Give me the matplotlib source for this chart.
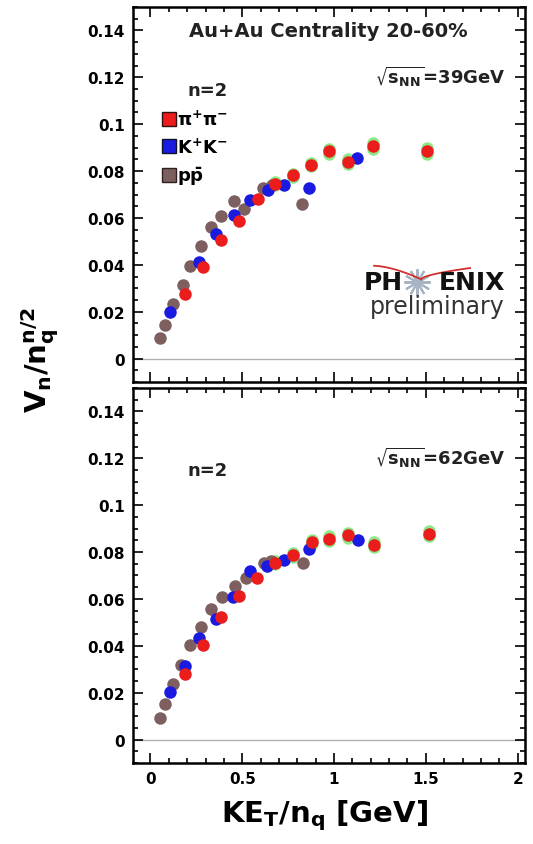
import numpy as np
import matplotlib
matplotlib.use("Agg")
from matplotlib import pyplot as plt
from matplotlib.lines import Line2D
from matplotlib.ticker import MultipleLocator

# v_n/n_q^(n/2) vs KE_T/n_q, Au+Au 20-60%, n=2
# 39 GeV
pi_x39 = [0.186, 0.286, 0.382, 0.480, 0.585, 0.676, 0.775, 0.875, 0.974, 1.078, 1.211, 1.505]
pi_y39 = [0.0275, 0.0390, 0.0508, 0.0585, 0.0679, 0.0746, 0.0782, 0.0828, 0.0885, 0.0840, 0.0907, 0.0886]
pi_sys39 = [0, 0, 0, 0, 0, 0.0006, 0.0007, 0.0008, 0.0010, 0.0010, 0.0011, 0.0011]
k_x39 = [0.109, 0.264, 0.359, 0.453, 0.540, 0.639, 0.730, 0.862, 1.124]
k_y39 = [0.0197, 0.0414, 0.0532, 0.0614, 0.0675, 0.0718, 0.0742, 0.0728, 0.0854]
p_x39 = [0.051, 0.081, 0.123, 0.177, 0.217, 0.277, 0.331, 0.386, 0.453, 0.512, 0.612, 0.660, 0.826]
p_y39 = [0.0090, 0.0143, 0.0233, 0.0315, 0.0394, 0.0482, 0.0561, 0.0607, 0.0671, 0.0639, 0.0728, 0.0740, 0.0661]

# 62 GeV
pi_x62 = [0.186, 0.286, 0.386, 0.482, 0.580, 0.676, 0.779, 0.880, 0.971, 1.078, 1.215, 1.515]
pi_y62 = [0.0279, 0.0405, 0.0521, 0.0614, 0.0691, 0.0754, 0.0787, 0.0843, 0.0857, 0.0871, 0.0832, 0.0878]
pi_sys62 = [0, 0, 0, 0, 0, 0.0006, 0.0007, 0.0008, 0.0010, 0.0010, 0.0011, 0.0011]
k_x62 = [0.109, 0.186, 0.264, 0.355, 0.449, 0.540, 0.636, 0.730, 0.862, 1.133]
k_y62 = [0.0203, 0.0315, 0.0434, 0.0514, 0.0606, 0.0720, 0.0741, 0.0765, 0.0811, 0.0853]
p_x62 = [0.051, 0.081, 0.123, 0.168, 0.217, 0.277, 0.331, 0.391, 0.458, 0.518, 0.616, 0.657, 0.829]
p_y62 = [0.0091, 0.0150, 0.0238, 0.0319, 0.0405, 0.0478, 0.0559, 0.0608, 0.0657, 0.0689, 0.0755, 0.0762, 0.0755]

energies = ["39GeV", "62GeV"]

red = "#ea1c1c"
blue = "#1a1ae0"
brown = "#7d5f5f"
green = "#8ee888"

plt.rcParams["font.family"] = "DejaVu Sans"
plt.rcParams["font.weight"] = "bold"
plt.rcParams["mathtext.default"] = "bf"

fig = plt.figure(figsize=(5.33, 8.45), dpi=100)
ax1 = fig.add_axes([0.2495, 0.5467, 0.7355, 0.4438])
ax2 = fig.add_axes([0.2495, 0.0959, 0.7355, 0.4438])

panels = [
    (ax1, pi_x39, pi_y39, pi_sys39, k_x39, k_y39, p_x39, p_y39),
    (ax2, pi_x62, pi_y62, pi_sys62, k_x62, k_y62, p_x62, p_y62),
]

ms = 9
for i, (ax, pix, piy, pis, kx, ky, px, py) in enumerate(panels):
    ax.axhline(0, color="#b0b0b0", lw=1, zorder=1)
    pix = np.array(pix)
    piy = np.array(piy)
    pis = np.array(pis)
    sel = pis > 0
    ax.plot(pix[sel], piy[sel] + pis[sel], "o", color=green, ms=ms, mew=0, zorder=2)
    ax.plot(pix[sel], piy[sel] - pis[sel], "o", color=green, ms=ms, mew=0, zorder=2)
    ax.plot(px, py, "o", color=brown, ms=ms, mew=0, zorder=3)
    ax.plot(kx, ky, "o", color=blue, ms=ms, mew=0, zorder=4)
    ax.plot(pix, piy, "o", color=red, ms=ms, mew=0, zorder=5)

    ax.set_xlim(-0.095, 2.04)
    ax.set_ylim(-0.01, 0.15)
    ax.xaxis.set_major_locator(MultipleLocator(0.5))
    ax.xaxis.set_minor_locator(MultipleLocator(0.1))
    ax.yaxis.set_major_locator(MultipleLocator(0.02))
    ax.yaxis.set_minor_locator(MultipleLocator(0.005))
    ax.tick_params(which="both", direction="in", top=True, right=True, width=1.2)
    ax.tick_params(which="major", length=7, labelsize=11, pad=6)
    ax.tick_params(which="minor", length=3.5)
    ax.set_yticks([0, 0.02, 0.04, 0.06, 0.08, 0.1, 0.12, 0.14])
    ax.set_yticklabels(["0", "0.02", "0.04", "0.06", "0.08", "0.1", "0.12", "0.14"])
    for s in ax.spines.values():
        s.set_linewidth(1.8)

    ax.text(0.138, 0.78, "n=2", transform=ax.transAxes, fontsize=13,
            ha="left", va="center", color="#222222")
    ax.text(0.949, 0.815, r"$\sqrt{s_{NN}}$=" + energies[i], transform=ax.transAxes,
            fontsize=13, ha="right", va="center", color="#222222")

ax1.tick_params(labelbottom=False)
ax2.set_xticks([0, 0.5, 1, 1.5, 2])
ax2.set_xticklabels(["0", "0.5", "1", "1.5", "2"])

ax1.text(0.497, 0.937, "Au+Au Centrality 20-60%", transform=ax1.transAxes,
         fontsize=14, ha="center", va="center", color="#222222")

handles = [
    Line2D([], [], marker="s", ls="", color=red, mec="#301010", ms=10),
    Line2D([], [], marker="s", ls="", color=blue, mec="#101030", ms=10),
    Line2D([], [], marker="s", ls="", color=brown, mec="#302020", ms=10),
]
labels = [r"$\pi^{+}\pi^{-}$", r"K$^{+}$K$^{-}$", r"p$\bar{p}$"]
leg = ax1.legend(handles, labels, loc="upper left", bbox_to_anchor=(0.055, 0.75),
                 frameon=False, fontsize=13, handlelength=0.6, handletextpad=0.15,
                 labelspacing=0.45, borderpad=0)

# PHENIX preliminary logo
ax1.text(0.588, 0.267, "PH", transform=ax1.transAxes, fontsize=18, ha="left",
         va="center", color="#111111")
ax1.text(0.949, 0.267, "ENIX", transform=ax1.transAxes, fontsize=18, ha="right",
         va="center", color="#111111")
ax1.plot([0.725], [0.267], marker=(12, 2, 0), ms=19, color="#a8b4c4", mew=1.5,
         transform=ax1.transAxes, clip_on=False)
ax1.text(0.949, 0.203, "preliminary", transform=ax1.transAxes, fontsize=17,
         ha="right", va="center", color="#333333", fontweight="normal")
t = np.linspace(0, 1, 30)
ax1.plot(0.615 + 0.12 * t, 0.31 - 0.036 * t ** 1.6, color="#d03030", lw=1.3,
         transform=ax1.transAxes)
ax1.plot(0.735 + 0.125 * t, 0.274 + 0.03 * t ** 0.6, color="#d03030", lw=1.3,
         transform=ax1.transAxes)

fig.text(0.075, 0.574, r"$V_n/n_q^{n/2}$", rotation=90, fontsize=21,
         ha="center", va="center")
fig.text(0.608, 0.035, r"KE$_T$/n$_q$ [GeV]", fontsize=21, ha="center", va="center")

fig.savefig("out.png", dpi=100, facecolor="white")
